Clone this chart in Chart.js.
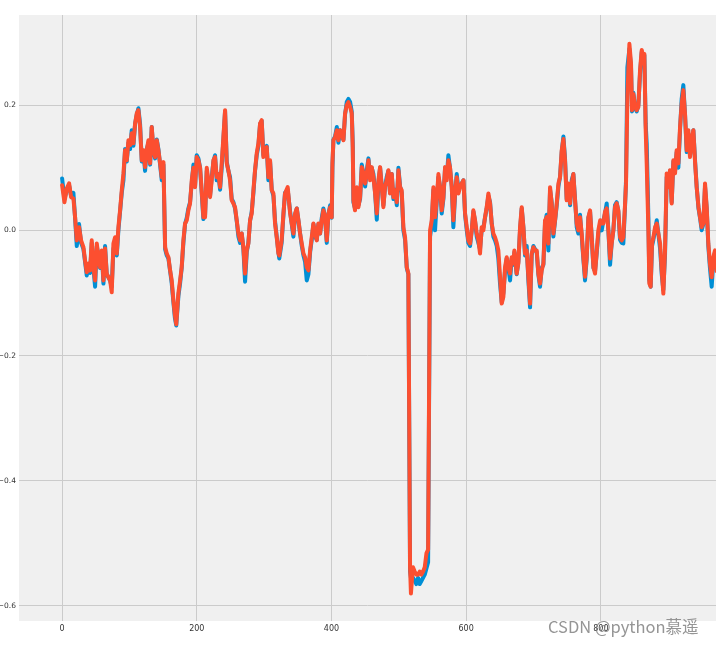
<!DOCTYPE html>
<html>
<head>
<meta charset="utf-8">
<script src="https://cdn.jsdelivr.net/npm/chart.js@4"></script>
<style>
  html, body { margin: 0; padding: 0; background: #fff; }
  canvas { display: block; }
</style>
</head>
<body>
<canvas id="chart" width="716" height="645"></canvas>
<script>
// === Data (x = sample index) ===
const xs = [
  0,3.5,7,10.4,13.4,16.8,19.3,21.8,25.2,28.2,31.7,34.1,36.6,39.1,41.6,44,46.5,49,51.5,54,56.4,58.9,61.4,63.8,66.3,68.8,71.3,73.7,76.2,78.7,
  81.2,83.6,86.1,88.6,91.1,93.5,96,98.5,101,103.4,105.9,108.4,110.9,113.3,115.8,118.3,120.8,123.2,125.7,128.2,130.7,133.1,135.6,138.1,140.6,143,145.5,148,150.5,153,
  155.4,157.9,160.4,162.8,165.3,167.5,169.5,172.7,175.2,177.6,180.1,182.6,185.1,187.5,190,192.5,195,197.4,199.9,202.4,204.9,207.3,209.8,212.3,214.8,217.2,219.7,222.2,224.7,227.1,
  229.6,232.1,234.6,237,239.5,242,244.5,246.9,249.4,251.9,254.4,256.8,259.3,261.8,264.3,266.7,269.2,271.7,274.2,276.6,279.1,281.6,284.1,286.5,289,291.5,294,296.4,298.9,301.4,
  303.9,306.3,308.8,311.3,313.8,316.2,318.7,321.2,322.5,326,328.7,331,335,338.6,341,343.5,346,348.5,351,353.4,355.9,358.4,360.8,363.3,365.8,368.3,370.7,373.2,375.7,378.2,
  380.6,383.1,385.6,388,390.5,393,395.5,398,400.4,401.4,402.9,405.4,407.9,410.3,412.8,415.3,417.8,420.2,422.7,425.2,427.7,430.1,431.6,432.6,435,437.6,440,442.5,445,447.5,
  450,452.4,454.9,457.4,459.8,462.3,464.8,467.3,469.7,472.2,474.7,477.1,479.6,482,484.5,487,489.5,492,494.4,497,499.4,501.9,504.3,506.8,509.3,511.8,514.2,516.7,518,521,
  523.6,526,528.6,531,533.5,536,538.5,541,543.5,546.4,548.9,551.4,553.8,556.3,558.8,561.3,563.7,566.2,568.7,571.2,573.6,576,578.6,581,583.5,586,588.5,591,593.4,596,
  598.4,600.9,603.3,605.8,608.3,610.7,613.2,615.7,618.2,620.6,623,625.6,628,630.5,633,635.5,638,640.4,642.9,645.4,647.8,650.3,652.8,655.3,657.7,660.2,662.7,665.2,667.6,670.1,
  671.6,675,677.5,680,682.5,685,687.4,689.9,692.4,694.9,697.3,699.8,702.3,704.8,707.2,709.7,712.2,714.7,717.1,719.6,722.1,724.6,727,729.5,732,734.5,737,739.4,741.9,744.4,
  746.8,749.3,751.8,754.3,756.7,759.2,761.7,764.2,766.6,769.1,771.6,774,776.5,779,781.5,784,786.4,789,791.4,794,796.3,799,801.3,803.8,806.2,808.7,811.2,813.7,816.1,818.6,
  821,823.5,826,828.5,831,833.4,836,837.4,839.4,842.4,844.8,846.3,848.3,850.8,853.2,855.7,858.2,860.7,863,864.6,866.6,868.1,870.6,872,874,876,878,880.5,883,885.4,
  888,890.4,892.8,895.3,897.8,900.3,902.7,905.2,907.7,910.2,912.6,915.1,917.6,920,922.5,925,927.5,930,932.4,935,937.4,940,942.3,945,947.3,949.7,952.2,954.7,957.2,959.6,
  962,964.6,967,969.5,972,975
];

const actual = [
  .083,.05,.065,.072,.055,.06,.02,-.025,.01,-.02,-.03,-.05,-.072,-.055,-.068,-.02,-.06,-.09,-.025,-.04,-.06,-.035,-.085,-.025,-.07,-.075,-.08,-.09,-.03,-.02,
  -.04,0,.03,.06,.08,.13,.11,.14,.13,.16,.135,.17,.185,.195,.17,.11,.125,.095,.13,.14,.105,.165,.125,.115,.145,.13,.105,.08,.105,-.03,
  -.04,-.045,-.065,-.085,-.115,-.14,-.152,-.105,-.085,-.06,-.02,.01,.02,.035,.045,.075,.105,.07,.12,.115,.1,.06,.018,.025,.095,.075,.055,.085,.11,.12,
  .08,.09,.065,.1,.145,.19,.11,.095,.085,.05,.045,.035,.015,-.01,-.02,-.005,-.03,-.082,-.035,-.02,.015,.03,.06,.095,.12,.135,.17,.175,.12,.125,
  .135,.08,.11,.065,.055,.015,-.01,-.035,-.045,-.02,.025,.06,.065,.03,.01,-.01,.025,.035,.015,-.005,-.025,-.04,-.05,-.08,-.07,-.035,-.015,.01,-.01,-.015,
  .01,-.005,.02,.035,.02,-.02,.025,.04,.02,.1,.145,.15,.165,.14,.16,.15,.145,.185,.205,.21,.205,.19,.14,.045,.035,.065,.04,.05,.105,.09,
  .07,.095,.115,.085,.1,.09,.06,.017,.075,.1,.07,.04,.07,.085,.095,.06,.09,.05,.065,.04,.1,.07,.06,0,-.015,-.06,-.07,-.545,-.555,-.555,
  -.56,-.565,-.555,-.565,-.56,-.555,-.55,-.54,-.53,-.01,.01,.065,0,.045,.085,.07,.027,.05,.1,.085,.12,.1,.07,.005,.055,.09,.065,.07,.075,.08,
  .025,0,-.02,-.025,0,.03,.015,-.01,-.02,-.03,0,.005,.02,.035,.055,.045,.01,-.01,-.016,-.025,-.045,-.085,-.115,-.1,-.065,-.045,-.06,-.08,-.045,-.055,
  -.035,-.07,-.05,0,.035,.005,-.04,-.025,-.08,-.123,-.04,-.025,-.03,-.035,-.07,-.09,-.06,-.055,.01,.025,-.032,.065,.045,-.01,.015,.04,.07,.085,.125,.15,
  .115,.05,.07,.04,.08,.09,.05,.005,-.005,.025,-.01,-.045,-.08,-.045,.02,.03,-.01,-.06,-.065,-.035,-.005,.01,0,.016,.027,.043,0,-.055,-.02,0,
  .04,.045,.03,-.015,-.02,-.021,.04,.08,.26,.29,.26,.19,.22,.195,.19,.2,.25,.285,.275,.28,.17,.139,.02,-.08,-.09,-.025,-.015,0,.016,-.005,
  -.03,-.07,-.095,-.04,.085,.07,.095,.045,.11,.095,.125,.1,.16,.21,.232,.185,.125,.155,.12,.14,.16,.11,.07,.035,.02,0,.01,.07,.035,-.025,
  -.06,-.09,-.05,-.035,-.06,-.07
];

const predicted = [
  .072,.045,.067,.075,.053,.051,.021,-.016,.005,-.016,-.027,-.048,-.067,-.053,-.064,-.016,-.059,-.08,-.021,-.043,-.059,-.032,-.08,-.029,-.069,-.075,-.08,-.099,-.021,-.011,
  -.037,.005,.032,.064,.091,.128,.112,.144,.136,.155,.139,.171,.187,.192,.165,.112,.128,.101,.128,.144,.107,.165,.128,.117,.144,.128,.107,.085,.109,-.027,
  -.037,-.043,-.064,-.08,-.112,-.135,-.15,-.1,-.08,-.059,-.016,.011,.016,.032,.043,.08,.1,.069,.117,.112,.1,.064,.021,.021,.1,.08,.053,.08,.112,.117,
  .085,.09,.069,.107,.149,.192,.107,.096,.08,.048,.043,.037,.016,-.005,-.016,-.005,-.027,-.069,-.032,-.021,.016,.027,.064,.096,.123,.139,.171,.176,.117,.128,
  .133,.085,.112,.064,.059,.011,-.011,-.037,-.04,-.016,.027,.059,.069,.027,.011,-.005,.027,.035,.016,-.005,-.021,-.037,-.043,-.059,-.064,-.032,-.011,.011,-.005,-.016,
  .011,-.005,.016,.032,.021,-.016,.027,.037,.021,.107,.144,.149,.16,.144,.16,.155,.144,.187,.2,.205,.197,.187,.133,.048,.032,.069,.037,.053,.101,.091,
  .075,.091,.112,.08,.101,.085,.059,.027,.08,.101,.069,.037,.07,.08,.096,.059,.09,.053,.064,.045,.096,.069,.064,.005,-.011,-.059,-.069,-.538,-.58,-.538,
  -.545,-.55,-.55,-.545,-.55,-.545,-.538,-.516,-.51,0,.016,.069,.021,.048,.09,.069,.032,.053,.101,.08,.112,.101,.069,.016,.059,.085,.059,.069,.075,.08,
  .027,.005,-.016,-.021,0,.032,.016,-.005,-.016,-.037,.005,0,.021,.037,.059,.043,.011,-.005,-.011,-.02,-.032,-.074,-.117,-.106,-.059,-.043,-.059,-.069,-.043,-.053,
  -.032,-.069,-.053,.005,.037,.005,-.037,-.032,-.074,-.117,-.037,-.027,-.032,-.032,-.069,-.085,-.064,-.053,.016,.021,-.021,.069,.043,-.005,.016,.043,.075,.085,.128,.146,
  .112,.048,.075,.043,.075,.09,.048,.011,0,.021,-.005,-.043,-.074,-.043,.021,.032,-.011,-.059,-.069,-.032,0,.016,.011,.011,.03,.035,0,-.045,-.021,0,
  .037,.043,.032,-.011,-.016,-.011,.043,.075,.213,.298,.267,.192,.218,.197,.192,.197,.256,.288,.277,.282,.16,.107,0,-.085,-.09,-.021,-.011,.005,.011,-.005,
  -.021,-.064,-.101,-.032,.091,.069,.096,.043,.112,.091,.128,.107,.165,.202,.224,.186,.128,.16,.117,.144,.16,.107,.069,.037,.021,.005,.011,.075,.037,-.021,
  -.053,-.075,-.043,-.032,-.065,-.07
];

// axis setup
const xTicks = [0, 200, 400, 600, 800];
const yTicks = [-0.6, -0.4, -0.2, 0.0, 0.2];
const X_MIN = -64, X_MAX = 971;
const Y_MIN = -0.624, Y_MAX = 0.344;

const pts = arr => xs.map((x, i) => ({x, y: arr[i]}));

// === Plugins: plot background + watermark ===
const bgPlugin = {
  id: 'bg',
  beforeDraw(chart){
    const {ctx, chartArea:a} = chart;
    ctx.save();
    ctx.fillStyle = '#ffffff';
    ctx.fillRect(0, 0, chart.width, chart.height);
    ctx.fillStyle = '#f0f0f0';
    ctx.fillRect(a.left, a.top, a.right - a.left, a.bottom - a.top);
    ctx.restore();
  }
};
const markPlugin = {
  id: 'mark',
  afterDraw(chart){
    const ctx = chart.ctx;
    ctx.save();
    ctx.font = '16.5px "Noto Sans CJK SC", "DejaVu Sans", sans-serif';
    ctx.fillStyle = 'rgba(130,130,130,0.85)';
    ctx.textBaseline = 'alphabetic';
    ctx.fillText('CSDN @python慕遥', 548, 633);
    ctx.restore();
  }
};

const lineStyle = {borderWidth: 4, pointRadius: 0, tension: 0, borderJoinStyle: 'round', borderCapStyle: 'round'};

new Chart(document.getElementById('chart'), {
  type: 'line',
  data: {
    datasets: [
      {label: 'predicted', data: pts(predicted), borderColor: '#fc4f30', ...lineStyle},
      {label: 'actual', data: pts(actual), borderColor: '#008fd5', ...lineStyle}
    ]
  },
  options: {
    responsive: false,
    animation: false,
    events: [],
    layout: {padding: {top: 15, right: 0, bottom: 0, left: 0}},
    plugins: {legend: {display: false}, tooltip: {enabled: false}},
    scales: {
      x: {
        type: 'linear', min: X_MIN, max: X_MAX,
        afterBuildTicks: s => { s.ticks = xTicks.map(v => ({value: v})); },
        afterFit: s => { s.height = 24; },
        grid: {color: '#cbcbcb', lineWidth: 1, drawTicks: false},
        border: {display: false},
        ticks: {padding: 3, color: '#333', font: {family: 'DejaVu Sans', size: 8}, maxRotation: 0}
      },
      y: {
        min: Y_MIN, max: Y_MAX,
        afterBuildTicks: s => { s.ticks = yTicks.map(v => ({value: v})); },
        afterFit: s => { s.width = 19; },
        grid: {color: '#cbcbcb', lineWidth: 1, drawTicks: false},
        border: {display: false},
        ticks: {padding: 3, color: '#333', font: {family: 'DejaVu Sans', size: 7.5},
                callback: v => v.toFixed(1).replace('-', '\u2212')}
      }
    }
  },
  plugins: [bgPlugin, markPlugin]
});
</script>
</body>
</html>
